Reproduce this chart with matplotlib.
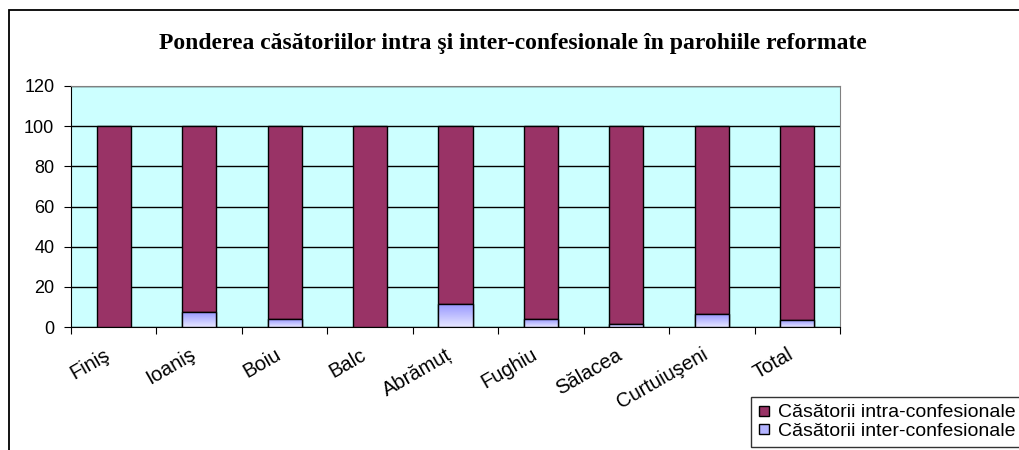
import matplotlib
matplotlib.use("Agg")
import matplotlib.pyplot as plt
import numpy as np
from matplotlib.patches import Rectangle
from matplotlib.lines import Line2D
from matplotlib.colors import LinearSegmentedColormap

categories = ["Finiş", "Ioaniş", "Boiu", "Balc", "Abrămuț", "Fughiu",
              "Sălacea", "Curtuiuşeni", "Total"]
inter = [0, 7.3, 3.8, 0, 11.3, 3.8, 1.3, 6.3, 3.3]
intra = [100 - v for v in inter]

INTRA_COL = "#993366"
INTER_COL = "#b3b3ff"
BG = "#ccffff"

fig = plt.figure(figsize=(10.19, 4.5), dpi=100)

# outer chart frame (cut off at right and bottom like the reference)
fig.patches.append(Rectangle((9 / 1019, -0.1), 1.2, 1 - 10 / 450 + 0.1,
                             transform=fig.transFigure, fill=False,
                             edgecolor="black", linewidth=1.3))

ax = fig.add_axes([71 / 1019, 1 - 327 / 450, (840 - 71) / 1019,
                   (327 - 86) / 450])
ax.set_facecolor(BG)

x = list(range(len(categories)))
inter_bars = ax.bar(x, inter, width=0.4, color=INTER_COL, edgecolor="black",
                    linewidth=1.0, zorder=3)
ax.bar(x, intra, bottom=inter, width=0.4, color=INTRA_COL,
       edgecolor="black", linewidth=1.0, zorder=3)

# vertical gradient on the inter-confessional segments
grad_cmap = LinearSegmentedColormap.from_list("g", ["#e6e6ff", "#9999ff"])
grad = np.linspace(0, 1, 64).reshape(-1, 1)
for b in inter_bars:
    h = b.get_height()
    if h <= 0:
        continue
    x0 = b.get_x()
    im = ax.imshow(grad, cmap=grad_cmap, origin="lower", aspect="auto",
                   extent=(x0, x0 + b.get_width(), 0, h), zorder=3.5)
    im.set_clip_path(b)
    ax.add_patch(Rectangle((x0, 0), b.get_width(), h, fill=False,
                           edgecolor="black", linewidth=1.0, zorder=4))

ax.set_xlim(-0.5, len(categories) - 0.5)
ax.set_ylim(0, 120)
ax.set_yticks(range(0, 121, 20))
ax.grid(axis="y", color="black", linewidth=1.0, zorder=1)
ax.set_axisbelow(True)

# category separators as major ticks, names on (slightly left-shifted) minor
ax.set_xticks([i - 0.5 for i in x] + [len(x) - 0.5])
ax.set_xticklabels([])
ax.set_xticks([i - 0.12 for i in x], minor=True)
ax.set_xticklabels(categories, minor=True, rotation=30, ha="right",
                   rotation_mode="anchor", fontsize=14.5,
                   family="Liberation Sans")
ax.tick_params(axis="x", which="minor", length=0, pad=13)
ax.tick_params(axis="x", which="major", length=5, direction="out")
ax.tick_params(axis="y", length=5, labelsize=13, pad=7)
for lab in ax.get_yticklabels():
    lab.set_family("Liberation Sans")

for side in ("top", "right"):
    ax.spines[side].set_color("#808080")
for side in ("left", "bottom"):
    ax.spines[side].set_color("black")

fig.text(513 / 1019, 1 - 43 / 450, "Ponderea căsătoriilor intra şi "
         "inter-confesionale în parohiile reformate", ha="center",
         va="center", fontsize=17, fontweight="bold",
         family="Liberation Serif")

handles = [
    Line2D([], [], marker="s", linestyle="none", markersize=7.5,
           markerfacecolor=INTRA_COL, markeredgecolor="black"),
    Line2D([], [], marker="s", linestyle="none", markersize=7.5,
           markerfacecolor=INTER_COL, markeredgecolor="black"),
]
leg = fig.legend(handles, ["Căsătorii intra-confesionale",
                           "Căsătorii inter-confesionale"],
                 loc="upper left", bbox_to_anchor=(751 / 1019, 1 - 397 / 450),
                 frameon=True, fancybox=False, edgecolor="black",
                 prop={"family": "Liberation Sans", "size": 14},
                 handletextpad=0.45, handlelength=0.6, borderpad=0.35,
                 labelspacing=0.05, borderaxespad=0)
leg.get_frame().set_linewidth(1.0)

fig.savefig("out.png", dpi=100)
